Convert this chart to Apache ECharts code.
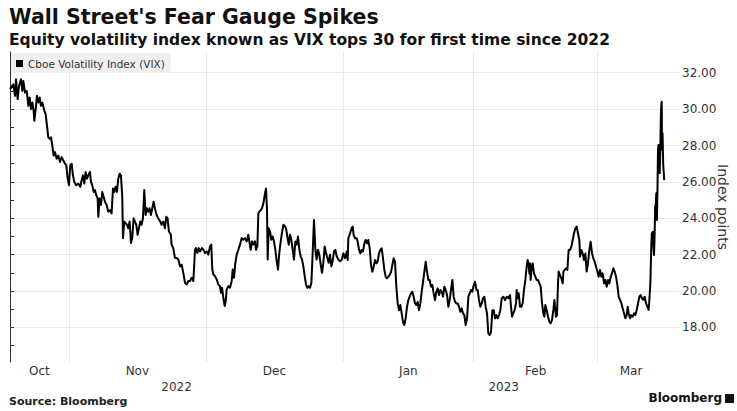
<!DOCTYPE html>
<html><head><meta charset="utf-8">
<script src="https://cdn.jsdelivr.net/npm/echarts@6/dist/echarts.min.js"></script>
<style>html,body{margin:0;padding:0;background:#fff}#c{width:737px;height:411px}</style>
</head><body><div id="c"></div>
<script>
// ---- DATA ----
const titleText = "Wall Street's Fear Gauge Spikes";
const subtitleText = "Equity volatility index known as VIX tops 30 for first time since 2022";
const sourceText = "Source: Bloomberg";
const seriesName = "Cboe Volatility Index (VIX)";
const yAxisName = "Index points";

// [trading-day index, VIX]
const vixOct = [[0,31.1],[0.51,31.36],[0.77,30.73],[0.92,31.64],[1.17,30.55],[1.38,31.27],[1.68,31.64],[1.89,31.0],[2.04,31.55],[2.30,30.91],[2.55,31.0],[2.70,30.55],[2.81,30.18],[3.01,30.64],[3.21,30.0],[3.42,30.36],[3.62,29.91],[3.72,29.36],[3.93,30.0],[4.13,30.73],[4.34,30.36],[4.54,30.64],[4.74,30.18],[4.95,30.36],[5.26,29.91],[5.46,29.73],[5.66,29.09],[5.87,28.45],[6.07,28.36],[6.28,28.45],[6.48,28.0],[6.68,27.45],[6.89,27.64],[7.14,27.27],[7.40,27.45],[7.65,27.09],[7.91,27.36],[8.16,27.18],[8.42,27.0],[8.62,26.91],[8.83,26.18]];
const vixNov = [[9.03,25.82],[9.23,26.91],[9.44,27.0],[9.64,26.36],[9.85,26.0],[10.15,25.82],[10.46,25.91],[10.77,25.73],[10.97,26.09],[11.17,26.36],[11.38,25.91],[11.58,26.55],[11.79,26.18],[11.99,26.36],[12.24,26.55],[12.40,26.0],[12.60,25.82],[12.81,25.45],[13.01,25.55],[13.21,25.27],[13.42,25.09],[13.52,24.09],[13.72,25.09],[13.93,24.73],[14.13,25.45],[14.34,25.18],[14.54,24.91],[14.80,24.73],[15.05,24.36],[15.36,24.45],[15.56,24.27],[15.77,25.64],[15.97,25.45],[16.17,25.73],[16.38,25.45],[16.58,26.18],[16.79,26.45],[16.99,26.36],[17.19,25.18],[17.30,22.91],[17.50,23.82],[17.70,23.73],[17.91,23.64],[18.11,23.45],[18.32,23.82],[18.52,22.64],[18.72,22.91],[18.93,24.0],[19.13,23.82],[19.34,23.64],[19.54,23.09],[19.74,23.45],[19.95,23.82],[20.15,23.64],[20.36,24.0],[20.56,25.55],[20.77,24.18],[20.97,24.55],[21.17,24.36],[21.38,24.55],[21.58,24.18],[21.79,24.55],[21.99,24.91],[22.19,24.55],[22.45,24.18],[22.70,24.0],[23.01,23.82],[23.21,23.64],[23.47,23.82],[23.72,23.45],[23.93,24.09],[24.13,24.0],[24.34,23.27],[24.64,23.09],[24.74,22.55],[25.0,22.36],[25.26,21.82],[25.52,21.82],[25.78,21.73],[26.03,21.36],[26.29,21.45],[26.54,21.0],[26.80,20.45],[27.05,20.36],[27.31,20.55],[27.56,20.55],[27.82,20.73],[28.08,20.55],[28.33,22.27],[28.48,22.36],[28.69,22.09],[28.89,22.36],[29.10,22.18],[29.39,22.36],[29.61,22.27],[29.86,22.09]];
const vixDec = [[30.12,22.18],[30.37,22.0],[30.63,22.45],[30.83,22.55],[30.98,21.18],[31.14,20.91],[31.39,20.82],[31.65,20.64],[31.90,20.36],[32.16,20.27],[32.31,19.91],[32.47,20.18],[32.67,19.64],[32.87,19.18],[33.03,19.45],[33.18,20.09],[33.44,20.27],[33.69,20.18],[33.95,20.55],[34.10,21.18],[34.30,20.73],[34.51,21.55],[34.71,22.0],[34.97,22.27],[35.22,22.55],[35.48,22.91],[35.73,22.82],[35.99,22.91],[36.24,22.73],[36.50,23.09],[36.65,22.73],[36.86,22.27],[37.06,22.73],[37.26,22.55],[37.52,22.73],[37.67,22.27],[37.88,22.45],[38.03,24.27],[38.18,24.36],[38.39,24.45],[38.59,24.55],[38.80,24.82],[39.05,25.36],[39.20,25.64],[39.36,24.45],[39.46,21.73],[39.61,23.45],[39.82,23.27],[40.02,22.82],[40.22,23.0],[40.43,22.73],[40.63,22.27],[40.84,21.64],[41.04,21.18],[41.19,21.91],[41.35,22.45],[41.60,23.09],[41.86,23.64],[42.11,23.55],[42.27,23.45],[42.47,23.0],[42.68,22.55],[42.88,23.09],[43.08,22.82],[43.29,22.27],[43.49,21.73],[43.70,22.73],[43.90,22.55],[44.10,23.0],[44.31,22.27],[44.51,21.91],[44.72,21.73],[44.92,21.36],[45.13,20.82],[45.33,20.36],[45.53,20.18],[45.74,20.27],[45.94,20.18],[46.15,20.45],[46.35,22.09],[46.55,23.91],[46.76,22.27],[46.96,21.73],[47.17,22.27],[47.37,22.0],[47.58,21.45],[47.78,21.0],[47.98,21.55],[48.19,22.45],[48.39,22.09],[48.60,21.82],[48.80,21.55],[49.00,22.0],[49.21,21.36],[49.41,21.64],[49.62,22.18],[49.82,22.27],[50.03,21.91],[50.28,21.73],[50.54,21.64]];
const vixJan = [[50.79,21.71],[51.05,22.07],[51.30,21.80],[51.56,22.17],[51.71,21.71],[51.81,22.90],[52.07,23.17],[52.32,23.45],[52.48,23.54],[52.63,23.08],[52.83,22.90],[53.09,22.90],[53.24,22.72],[53.45,22.26],[53.65,22.07],[53.85,22.26],[54.06,22.17],[54.26,22.62],[54.47,22.81],[54.67,22.62],[54.87,22.81],[55.08,22.35],[55.28,21.43],[55.49,21.06],[55.69,21.34],[55.90,21.71],[56.10,21.52],[56.30,21.61],[56.51,22.07],[56.71,22.26],[56.92,22.35],[57.12,21.80],[57.33,21.16],[57.53,20.79],[57.73,20.70],[57.94,20.79],[58.14,20.88],[58.35,21.06],[58.55,21.43],[58.75,21.80],[58.96,21.61],[59.16,20.24],[59.37,19.32],[59.57,18.95],[59.77,19.23],[59.98,18.77],[60.18,18.31],[60.39,18.13],[60.59,18.50],[60.80,19.14],[61.00,19.50],[61.20,19.69],[61.41,19.87],[61.61,19.96],[61.82,19.69],[62.02,19.32],[62.23,19.23],[62.43,19.41],[62.63,18.95],[62.84,19.32],[63.04,19.96],[63.25,20.51],[63.45,21.06],[63.66,21.61],[63.86,21.06],[64.06,20.61],[64.27,20.61],[64.47,20.24],[64.68,20.33],[64.88,19.87],[65.08,19.50],[65.29,19.96],[65.49,20.15],[65.70,19.78],[65.90,20.06],[66.11,19.96],[66.31,19.69],[66.51,20.24],[66.72,20.06],[66.92,19.78],[67.13,19.14],[67.33,19.50],[67.53,20.06],[67.74,20.61],[67.94,19.69],[68.15,19.41],[68.35,19.32],[68.56,19.32],[68.76,19.14],[68.96,18.86],[69.17,19.05],[69.37,18.77],[69.58,18.68],[69.78,18.13],[69.99,18.50],[70.19,19.69],[70.39,19.87],[70.60,20.06],[70.80,19.96]];
const vixFeb = [[71.01,20.33],[71.21,20.51],[71.42,20.06],[71.62,20.06],[71.82,19.50],[72.03,19.14],[72.23,19.32],[72.44,19.60],[72.64,19.69],[72.84,19.14],[73.05,18.77],[73.25,17.67],[73.46,17.58],[73.66,17.76],[73.87,18.95],[74.07,18.95],[74.27,18.50],[74.48,18.68],[74.68,18.50],[74.89,18.68],[75.09,18.95],[75.29,19.60],[75.55,19.69],[75.80,19.50],[76.06,19.69],[76.31,19.60],[76.57,19.78],[76.72,19.14],[76.88,18.59],[77.08,18.78],[77.28,18.96],[77.49,19.33],[77.59,20.06],[77.74,19.60],[77.90,19.88],[78.10,19.14],[78.31,19.14],[78.51,19.33],[78.71,20.06],[78.92,20.61],[79.12,21.34],[79.27,21.71],[79.43,21.43],[79.53,20.97],[79.63,21.52],[79.73,20.61],[79.89,21.34],[80.04,21.52],[80.24,20.97],[80.45,20.79],[80.65,20.61],[80.86,20.61],[81.06,20.42],[81.27,20.24],[81.47,19.33],[81.67,18.78],[81.83,18.59],[81.98,19.23],[82.18,18.96],[82.39,18.59],[82.59,18.32],[82.80,18.23],[83.00,18.41],[83.21,18.96],[83.36,19.51],[83.46,19.14],[83.61,18.59],[83.76,18.68],[83.92,20.42],[84.02,21.07],[84.23,20.88],[84.43,20.70],[84.64,20.42],[84.74,21.07],[84.94,21.16],[85.15,21.25],[85.35,21.16],[85.55,22.26],[85.76,22.26],[85.96,22.44],[86.17,22.81],[86.37,23.17],[86.57,23.45],[86.78,23.54],[86.98,23.17],[87.19,22.81],[87.29,21.89],[87.49,22.26],[87.70,22.07],[87.90,21.71],[88.11,22.07],[88.31,21.07],[88.51,21.52],[88.72,22.26],[88.92,22.71],[89.13,22.07],[89.33,21.80],[89.54,21.62],[89.74,21.34],[89.94,21.07]];
const vixMar = [[90.15,20.79],[90.35,21.16],[90.56,20.79],[90.76,20.97],[90.97,20.42],[91.17,20.61],[91.37,20.24],[91.58,20.61],[91.78,20.42],[91.99,20.79],[92.19,20.97],[92.39,21.25],[92.60,21.07],[92.80,20.79],[93.01,20.33],[93.21,19.69],[93.41,19.51],[93.62,19.33],[93.82,19.05],[94.03,18.78],[94.23,18.50],[94.44,18.68],[94.59,19.14],[94.74,18.78],[94.95,18.50],[95.15,18.68],[95.35,18.59],[95.56,18.78],[95.76,18.68],[95.97,18.96],[96.17,19.33],[96.38,19.69],[96.58,19.78],[96.78,19.60],[96.99,19.51],[97.19,19.69],[97.40,19.33],[97.60,19.14],[97.80,18.96],[97.91,19.51],[98.06,20.42],[98.19,22.26],[98.28,23.17],[98.45,23.26],[98.54,22.44],[98.62,21.98],[98.71,22.99],[98.80,24.64],[98.88,24.73],[98.97,25.37],[99.06,23.90],[99.15,25.55],[99.23,27.75],[99.32,28.03],[99.40,27.93],[99.50,26.47],[99.58,27.75],[99.67,29.58],[99.75,30.32],[99.80,30.41],[99.84,28.30],[99.88,27.75],[99.93,28.67],[100.02,27.02],[100.10,26.56],[100.19,26.10]];

const monthLabels = ['Oct','Nov','Dec','Jan','Feb','Mar'];
const monthStartDay = [0, 9, 30, 51, 71, 90];
const lastDay = 100.2;
const yearLabels = ['2022','2023'];
const yearStartDay = [0, 51];
const yTickLabels = [18, 20, 22, 24, 26, 28, 30, 32];
const yMinorTicks = [17, 18, 19, 20, 21, 22, 23, 24, 25, 26, 27, 28, 29, 30, 31, 32, 33];

// ---- BUILD ----
const vixPoints = [].concat(vixOct, vixNov, vixDec, vixJan, vixFeb, vixMar);
const X_MAX = 102.6, Y_MIN = 16.1, Y_MAX = 33.14;
const monthCenters = monthStartDay.map((s, i) => (s + (i + 1 < monthStartDay.length ? monthStartDay[i + 1] : lastDay)) / 2);
const yearCenters = yearStartDay.map((s, i) => (s + (i + 1 < yearStartDay.length ? yearStartDay[i + 1] : lastDay)) / 2);
const pick = (centers, labels) => (v) => {
  let best = 0, d = Infinity;
  centers.forEach((c, i) => { const e = Math.abs(c - v); if (e < d) { d = e; best = i; } });
  return labels[best];
};
const FONT = 'DejaVu Sans';
const GRID = '#e8e8e8';

const chart = echarts.init(document.getElementById('c'), null, {renderer: 'svg', width: 737, height: 411});
chart.setOption({
  animation: false,
  backgroundColor: '#ffffff',
  textStyle: {fontFamily: FONT},
  title: [
    {text: titleText, left: 9, top: 6, padding: 0, textStyle: {fontFamily: FONT, fontSize: 20.5, fontWeight: 'bold', color: '#111'}},
    {text: subtitleText, left: 9, top: 32, padding: 0, textStyle: {fontFamily: FONT, fontSize: 15.5, fontWeight: 'bold', color: '#111'}},
    {text: sourceText, left: 9, top: 396, padding: 0, textStyle: {fontFamily: FONT, fontSize: 11, fontWeight: 'bold', color: '#222'}},
    {text: 'Bloomberg', right: 15, top: 392, padding: 0, textStyle: {fontFamily: FONT, fontSize: 12, fontWeight: 'bold', color: '#111'}}
  ],
  graphic: [
    {type: 'rect', right: 3, top: 394, shape: {width: 9, height: 9}, style: {fill: '#111'}}
  ],
  legend: {
    left: 11, top: 53, padding: [5, 6, 4, 5], backgroundColor: '#efefef',
    itemWidth: 7, itemHeight: 7, itemGap: 0,
    textStyle: {fontFamily: FONT, fontSize: 10.5, color: '#333'},
    data: [{name: seriesName, icon: 'rect', itemStyle: {color: '#000'}}]
  },
  grid: {left: 10, right: 57, top: 52, bottom: 49, containLabel: false, outerBoundsMode: 'none'},
  xAxis: [
    {
      type: 'value', min: 0, max: X_MAX,
      axisLine: {show: false},
      axisTick: {show: false, customValues: monthStartDay.slice(1)},
      splitLine: {show: true, lineStyle: {color: GRID, width: 1}},
      axisLabel: {customValues: monthCenters, formatter: pick(monthCenters, monthLabels), color: '#333', fontFamily: FONT, fontSize: 12, margin: 3}
    },
    {
      type: 'value', min: 0, max: X_MAX, position: 'bottom', offset: 16,
      axisLine: {show: false}, axisTick: {show: false}, splitLine: {show: false},
      axisLabel: {customValues: yearCenters, formatter: pick(yearCenters, yearLabels), color: '#333', fontFamily: FONT, fontSize: 12, margin: 3}
    }
  ],
  yAxis: [
    {
      type: 'value', position: 'right', min: Y_MIN, max: Y_MAX,
      axisLine: {show: true, lineStyle: {color: '#333', width: 1}},
      axisTick: {show: true, length: 4, customValues: yMinorTicks, lineStyle: {color: '#333'}},
      axisLabel: {customValues: yTickLabels, formatter: (v) => Number(v).toFixed(2), color: '#333', fontFamily: FONT, fontSize: 12, margin: 2},
      splitLine: {show: false},
      name: yAxisName, nameLocation: 'middle', nameRotate: -90, nameGap: 36, nameMoveOverlap: false,
      nameTextStyle: {fontFamily: FONT, fontSize: 14, color: '#333'}
    },
    {
      type: 'value', position: 'right', min: Y_MIN, max: Y_MAX,
      axisLine: {show: false}, axisLabel: {show: false},
      axisTick: {show: false, customValues: yTickLabels},
      splitLine: {show: true, lineStyle: {color: GRID, width: 1}}
    }
  ],
  series: [{
    name: seriesName, type: 'line', xAxisIndex: 0, yAxisIndex: 0,
    data: vixPoints, showSymbol: false, symbol: 'none', sampling: 'none',
    lineStyle: {color: '#000', width: 2, join: 'round'},
    itemStyle: {color: '#000'}
  }]
});
</script></body></html>
